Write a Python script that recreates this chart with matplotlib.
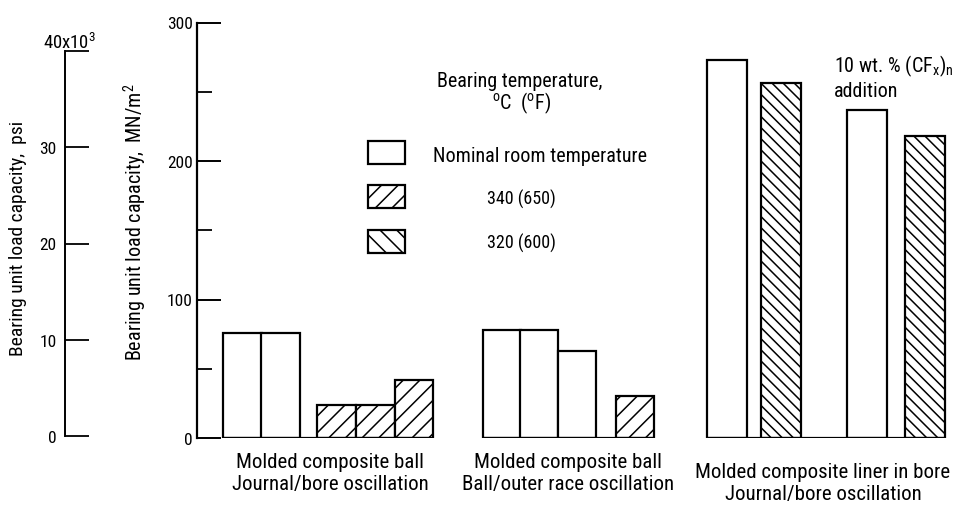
import matplotlib
matplotlib.use("Agg")
import matplotlib.pyplot as plt
from matplotlib.patches import Rectangle
from matplotlib import font_manager as fm

# ---------------- data ----------------
temperature_labels = ["Nominal room temperature", "340 (650)", "320 (600)"]
temperature_keys = ["room", "340", "320"]

group_line1 = ["Molded composite ball", "Molded composite ball", "Molded composite liner in bore"]
group_line2 = ["Journal/bore oscillation", "Ball/outer race oscillation", "Journal/bore oscillation"]

group1_values = [76, 76, 24, 24, 42]
group1_temps = ["room", "room", "340", "340", "340"]
group2_values = [78, 78, 63, 30]
group2_temps = ["room", "room", "room", "340"]
group3_values = [273, 256, 237, 218]
group3_temps = ["room", "320", "room", "320"]

mn_ticks = [0, 100, 200, 300]
mn_minor_ticks = [50, 150, 250]
psi_ticks = [0, 10, 20, 30, 40]
psi_tick_labels = ["0", "10", "20", "30", ""]

# ---------------- layout (pixels) ----------------
W, H = 962, 506
g1_left = [223, 261, 317, 356, 395]
g2_left = [483, 520, 558, 616]
g3_left = [707, 761, 847, 905]
g1_w, g2_w, g3_w = 38.5, 38, 40
hatch_map = {"room": "", "340": "//", "320": "\\\\\\"}

# choose a condensed sans font if one is available
names = {f.name for f in fm.fontManager.ttflist}
narrow = None
for cand in ["Liberation Sans Narrow", "Arial Narrow", "Roboto Condensed", "Open Sans Condensed"]:
    if cand in names:
        narrow = cand
        break
if narrow:
    plt.rcParams["font.family"] = [narrow, "DejaVu Sans"]
else:
    plt.rcParams["font.family"] = ["DejaVu Sans"]
    plt.rcParams["font.stretch"] = "condensed"
plt.rcParams["hatch.linewidth"] = 1.1
plt.rcParams["mathtext.default"] = "regular"

fig = plt.figure(figsize=(W / 100, H / 100), dpi=100)

def fx(px):
    return px / W

def fy(py):
    return (H - py) / H

FS = 12.5     # tick labels
FT = 14.5     # legend / annotation text
FG = 15       # group labels

# main axes: x in pixel units, y in MN/m^2
y0_px, y300_px = 439, 23.5
ax = fig.add_axes([fx(197), fy(y0_px), (W - 197) / W, (y0_px - y300_px) / H])
ax.set_xlim(197, W)
ax.set_ylim(0, 300)
for s in ["top", "right", "bottom"]:
    ax.spines[s].set_visible(False)
ax.spines["left"].set_linewidth(1.6)
ax.set_yticks(mn_ticks)
ax.set_yticklabels([str(t) for t in mn_ticks])
ax.set_yticks(mn_minor_ticks, minor=True)
ax.tick_params(axis="y", which="major", direction="in", length=17, width=1.4,
               labelsize=FS, pad=3)
ax.tick_params(axis="y", which="minor", direction="in", length=11, width=1.3)
ax.set_xticks([])
ax.patch.set_alpha(0)

def draw_group(lefts, width, values, temps):
    for l, v, t in zip(lefts, values, temps):
        ax.bar(l, v, width=width, align="edge", facecolor="white",
               edgecolor="black", linewidth=1.6, hatch=hatch_map[t])
    ax.hlines(0, lefts[0], lefts[-1] + width, color="black", linewidth=1.6)

draw_group(g1_left, g1_w, group1_values, group1_temps)
draw_group(g2_left, g2_w, group2_values, group2_temps)
draw_group(g3_left, g3_w, group3_values, group3_temps)

# y-axis label for MN/m^2
fig.text(fx(135), fy(222), "Bearing unit load capacity,  MN/m$^2$", rotation=90,
         ha="center", va="center", fontsize=14.5)

# psi axis
axp = fig.add_axes([fx(65), fy(437), 0.001, (437 - 52) / H])
axp.set_ylim(0, 40)
for s in ["top", "right", "bottom"]:
    axp.spines[s].set_visible(False)
axp.spines["left"].set_linewidth(1.4)
axp.set_xticks([])
axp.set_yticks(psi_ticks)
axp.set_yticklabels(psi_tick_labels)
axp.tick_params(axis="y", direction="in", length=17, width=1.3, labelsize=FS, pad=6)
axp.patch.set_alpha(0)
fig.text(fx(70), fy(43), "40x10$^3$", ha="center", va="center", fontsize=13.5)
fig.text(fx(18), fy(238), "Bearing unit load capacity,  psi", rotation=90,
         ha="center", va="center", fontsize=14)

# legend (manual)
fig.text(fx(437), fy(82), "Bearing temperature,", ha="left", va="center", fontsize=FT)
fig.text(fx(492), fy(103), "$^o$C  ($^o$F)", ha="left", va="center", fontsize=FT)
box_y = [153.5, 197.5, 242]
text_y = [156, 199, 243]
text_x = [433, 487, 487]
text_fs = [FT, 13, 13]
for key, lab, by, ty, tx, tfs in zip(temperature_keys, temperature_labels, box_y, text_y, text_x, text_fs):
    r = Rectangle((fx(368), fy(by + 11.5)), fx(37), 23 / H, transform=fig.transFigure,
                  facecolor="white", edgecolor="black", linewidth=1.6,
                  hatch=hatch_map[key].replace("\\\\\\", "\\\\"))
    fig.add_artist(r)
    fig.text(fx(tx), fy(ty), lab, ha="left", va="center", fontsize=tfs)

# annotation
fig.text(fx(834), fy(66), "10 wt. % (CF$_x$)$_n$", ha="left", va="center", fontsize=FT)
fig.text(fx(834), fy(92), "addition", ha="left", va="center", fontsize=FT)

# group labels
label_pos = [(330, 463), (568, 463), (823, 473)]
for l1, l2, (px, py) in zip(group_line1, group_line2, label_pos):
    fig.text(fx(px), fy(py), l1, ha="center", va="center", fontsize=FG)
    fig.text(fx(px), fy(py + 22), l2, ha="center", va="center", fontsize=FG)

fig.savefig("out.png", dpi=100)
